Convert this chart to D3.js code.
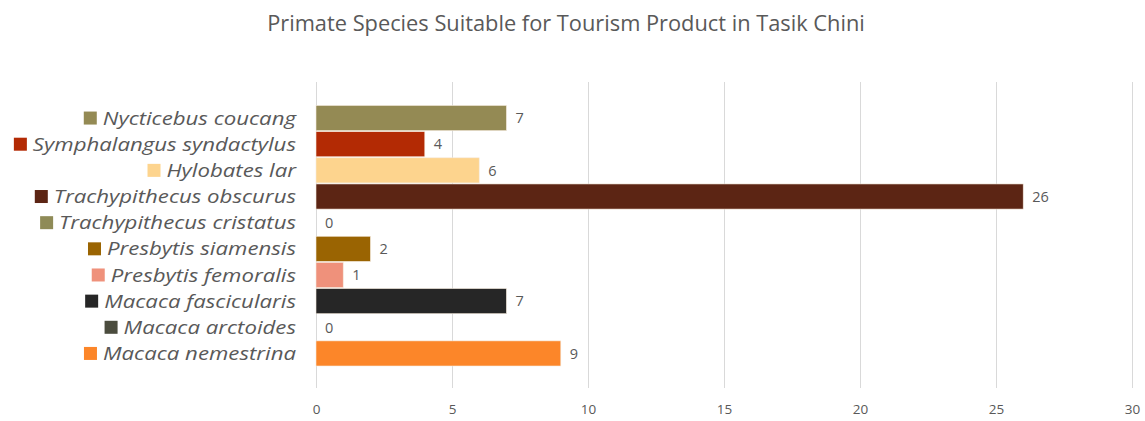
<!DOCTYPE html>
<html>
<head>
<meta charset="utf-8">
<script src="https://cdn.jsdelivr.net/npm/d3@7"></script>
<style>
  html, body { margin: 0; padding: 0; background: #ffffff; }
  svg { display: block; }
</style>
</head>
<body>
<svg id="chart" width="1145" height="421"></svg>
<script>
const title = "Primate Species Suitable for Tourism Product in Tasik Chini";
const species = [
  "Nycticebus coucang",
  "Symphalangus syndactylus",
  "Hylobates lar",
  "Trachypithecus obscurus",
  "Trachypithecus cristatus",
  "Presbytis siamensis",
  "Presbytis femoralis",
  "Macaca fascicularis",
  "Macaca arctoides",
  "Macaca nemestrina"
];
const counts = [7, 4, 6, 26, 0, 2, 1, 7, 0, 9];
const colors = [
  "#948a54", "#b32a04", "#fdd48e", "#5c2514", "#8f8b57",
  "#9a6402", "#ef917b", "#262626", "#4b4c3e", "#fc8629"
];
const xTicks = [0, 5, 10, 15, 20, 25, 30];

const svg = d3.select("#chart");
const textColor = "#595959";
const font = "'Open Sans', 'Noto Sans', sans-serif";

const x = d3.scaleLinear().domain([0, 30]).range([316, 1132]);
const y = d3.scaleBand().domain(species).range([105.5, 366]).paddingInner(0.04).paddingOuter(0);

// title
svg.append("text")
  .attr("x", 566).attr("y", 31)
  .attr("text-anchor", "middle")
  .attr("font-family", font)
  .attr("font-size", 21.8)
  .attr("fill", textColor)
  .text(title);

// gridlines
svg.append("g").selectAll("line").data(xTicks).join("line")
  .attr("x1", d => x(d) + 0.5).attr("x2", d => x(d) + 0.5)
  .attr("y1", 82).attr("y2", 388)
  .attr("stroke", "#d9d9d9").attr("stroke-width", 1);

// x axis tick labels
const xAxis = d3.axisBottom(x).tickValues(xTicks).tickSize(0).tickPadding(0);
const gx = svg.append("g").attr("transform", "translate(0,404)").call(xAxis);
gx.select(".domain").remove();
gx.selectAll("text")
  .attr("font-family", font).attr("font-size", 13.5)
  .attr("fill", textColor);

// bars
svg.append("g").selectAll("rect").data(species).join("rect")
  .attr("x", x(0))
  .attr("y", d => y(d))
  .attr("width", (d, i) => x(counts[i]) - x(0))
  .attr("height", y.bandwidth())
  .attr("fill", (d, i) => colors[i])
  .attr("stroke", (d, i) => counts[i] > 0 ? "#f4e9dc" : "none")
  .attr("stroke-width", 0.6);

// value labels
svg.append("g").selectAll("text").data(species).join("text")
  .attr("x", (d, i) => x(counts[i]) + 9)
  .attr("y", d => y(d) + y.bandwidth() / 2)
  .attr("dy", "0.36em")
  .attr("font-family", font).attr("font-size", 14.5)
  .attr("fill", textColor)
  .text((d, i) => counts[i]);

// category labels (italic) with colored square markers
const stretch = 1.17;
const lab = svg.append("g").selectAll("g").data(species).join("g")
  .attr("transform", d => `translate(296,${y(d) + y.bandwidth() / 2})`);
lab.append("text")
  .attr("x", 0).attr("dy", "0.35em")
  .attr("transform", `scale(${stretch},1)`)
  .attr("text-anchor", "end")
  .attr("font-family", font).attr("font-style", "italic")
  .attr("font-size", 19)
  .attr("fill", textColor)
  .text(d => d);
lab.each(function(d, i) {
  const g = d3.select(this);
  const w = g.select("text").node().getComputedTextLength() * stretch;
  g.append("rect")
    .attr("x", -w - 19).attr("y", -6.5)
    .attr("width", 13).attr("height", 13)
    .attr("fill", colors[i]);
});
</script>
</body>
</html>
